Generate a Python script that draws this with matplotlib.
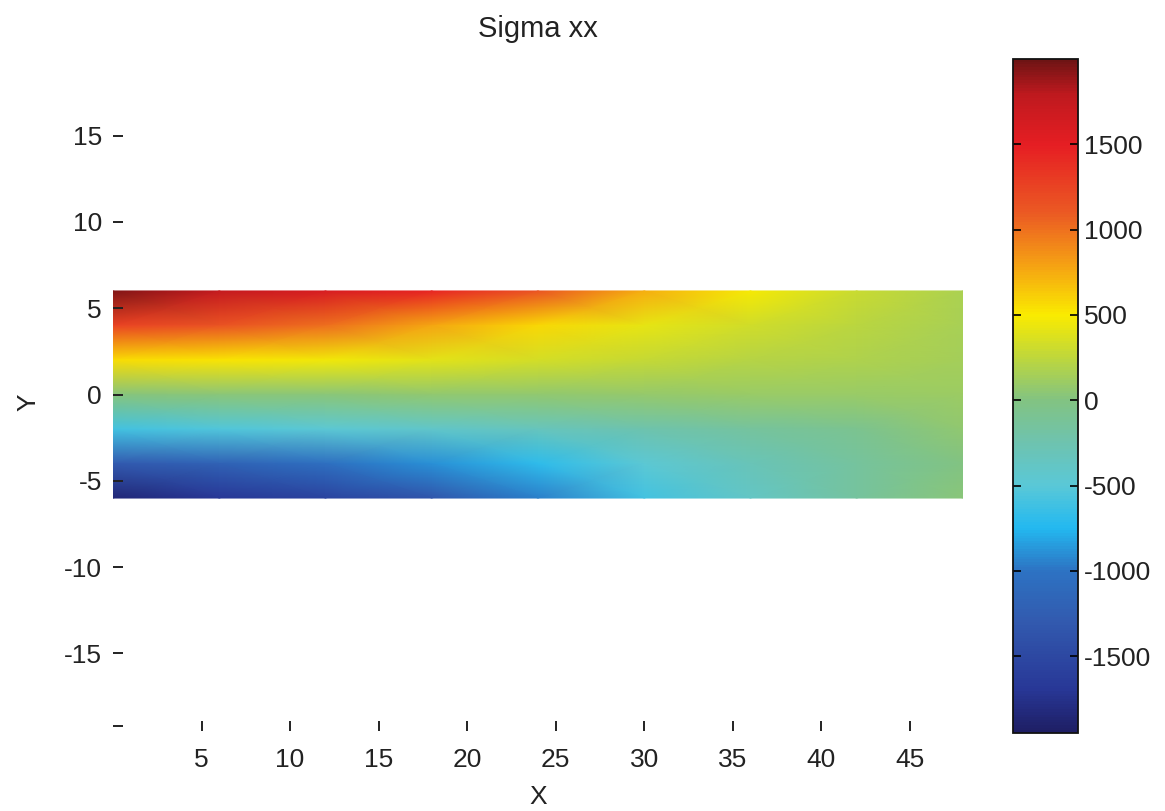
import numpy as np
import matplotlib
matplotlib.use("Agg")
import matplotlib.pyplot as plt
from matplotlib import font_manager
from matplotlib.colors import LinearSegmentedColormap, Normalize

# Stress field (columns along X, rows along Y)
x_nodes = [0, 6, 12, 18, 24, 30, 36, 42, 48]
y_nodes = [6, 4, 2, 0, -2, -4, -6]
sigma_xx = [
    [1950, 1750, 1600, 1450, 1150, 750, 480, 300, 170],
    [1250, 1150, 1000, 780, 580, 420, 320, 240, 160],
    [550, 520, 470, 400, 340, 280, 220, 180, 140],
    [20, 30, 40, 60, 70, 80, 90, 100, 110],
    [-600, -540, -480, -420, -340, -250, -160, -70, 60],
    [-1300, -1200, -1050, -900, -700, -480, -300, -150, 0],
    [-1850, -1700, -1550, -1350, -950, -600, -380, -150, 30],
]

x_ticks = [5, 10, 15, 20, 25, 30, 35, 40, 45]
y_ticks = [-19.2, -15, -10, -5, 0, 5, 10, 15]
y_tick_labels = ["", "-15", "-10", "-5", "0", "5", "10", "15"]
cbar_ticks = [-1500, -1000, -500, 0, 500, 1000, 1500]

vmin, vmax = -1950, 2000

# colour stops sampled from the scanned colorbar
cmap_values = [-1950, -1700, -1300, -1000, -750, -500, -250, 0, 250, 500, 800, 1100, 1500, 1800, 2000]
cmap_colors = ["#1e1e64", "#283796", "#325aaf", "#2d73c3", "#23b9f0", "#5ac8d7", "#6ec3af",
               "#82c382", "#bed73c", "#faeb00", "#f5a014", "#eb5a23", "#e61e23", "#be191e", "#6e1414"]


def pick_font():
    for name in ["Liberation Sans Narrow", "Liberation Sans", "DejaVu Sans"]:
        try:
            font_manager.findfont(name, fallback_to_default=False)
            return name
        except Exception:
            pass
    return "DejaVu Sans"


font = pick_font()
plt.rcParams["font.family"] = font
fs = 19

stops = [(v - vmin) / (vmax - vmin) for v in cmap_values]
cmap = LinearSegmentedColormap.from_list("scan_jet", list(zip(stops, cmap_colors)))
norm = Normalize(vmin=vmin, vmax=vmax)

fig = plt.figure(figsize=(11.65, 8.11), dpi=100)
W, H = 1165, 811

ax = fig.add_axes([113 / W, 1 - 731 / H, (963 - 113) / W, (731 - 58) / H])
X, Y = np.meshgrid(x_nodes, y_nodes)
mesh = ax.pcolormesh(X, Y, np.array(sigma_xx), cmap=cmap, norm=norm, shading="gouraud")
ax.set_xlim(0, 48)
ax.set_ylim(-19.5, 19.5)
for s in ax.spines.values():
    s.set_visible(False)
ax.set_xticks(x_ticks)
ax.set_xticklabels([str(t) for t in x_ticks])
ax.set_yticks(y_ticks)
ax.set_yticklabels(y_tick_labels)
ax.tick_params(direction="in", length=7, width=1.4, color="#222222",
               labelsize=fs, labelcolor="#222222")
ax.tick_params(axis="x", pad=12)
ax.tick_params(axis="y", pad=8)

fig.text(538 / W, 1 - 29 / H, "Sigma xx", ha="center", va="center", fontsize=21, color="#222222")
fig.text(538 / W, 1 - 797 / H, "X", ha="center", va="center", fontsize=fs, color="#222222")
fig.text(28 / W, 1 - 402 / H, "Y", ha="center", va="center", fontsize=fs, color="#222222", rotation=90)

cax = fig.add_axes([1013 / W, 1 - 733 / H, (1078 - 1013) / W, (733 - 59) / H])
cb = fig.colorbar(mesh, cax=cax)
cb.set_ticks(cbar_ticks)
cb.set_ticklabels([str(t) for t in cbar_ticks])
cb.outline.set_linewidth(1.3)
cb.outline.set_edgecolor("#111111")
cax.tick_params(direction="in", left=True, right=True, length=6, width=1.2,
                labelsize=fs, labelcolor="#222222", pad=4)

fig.savefig("out.png", dpi=100)
